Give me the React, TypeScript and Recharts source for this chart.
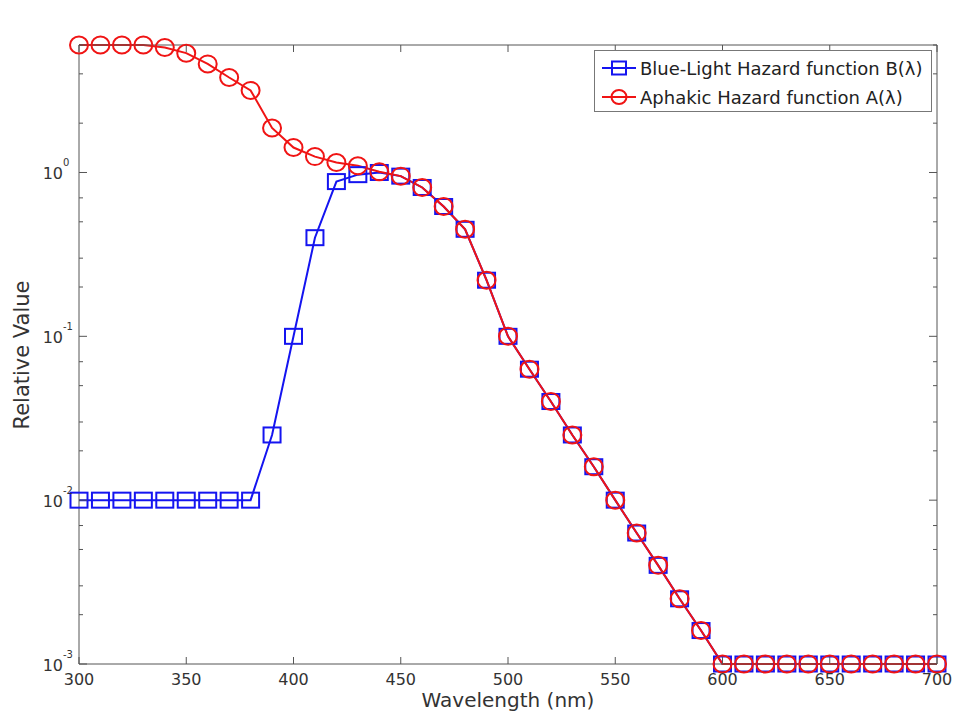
import { LineChart, Line, XAxis, YAxis, Legend } from 'recharts'

// wavelength samples (nm)
const WAVELENGTHS = [
  300, 310, 320, 330, 340, 350, 360, 370, 380, 390,
  400, 410, 420, 430, 440, 450, 460, 470, 480, 490,
  500, 510, 520, 530, 540, 550, 560, 570, 580, 590,
  600, 610, 620, 630, 640, 650, 660, 670, 680, 690, 700,
]

// Blue-Light Hazard function B(λ)
const BLUE_HAZARD = [
  0.01, 0.01, 0.01, 0.01, 0.01, 0.01, 0.01, 0.01, 0.01, 0.025,
  0.1, 0.4, 0.88, 0.97, 1.0, 0.95, 0.81, 0.62, 0.45, 0.22,
  0.1, 0.063, 0.04, 0.025, 0.016, 0.01, 0.0063, 0.004, 0.0025, 0.0016,
  0.001, 0.001, 0.001, 0.001, 0.001, 0.001, 0.001, 0.001, 0.001, 0.001, 0.001,
]

// Aphakic Hazard function A(λ)
const APHAKIC_HAZARD = [
  6.0, 6.0, 6.0, 6.0, 5.8, 5.35, 4.6, 3.8, 3.17, 1.87,
  1.42, 1.25, 1.15, 1.1, 1.01, 0.95, 0.81, 0.62, 0.45, 0.22,
  0.1, 0.063, 0.04, 0.025, 0.016, 0.01, 0.0063, 0.004, 0.0025, 0.0016,
  0.001, 0.001, 0.001, 0.001, 0.001, 0.001, 0.001, 0.001, 0.001, 0.001, 0.001,
]

const X_TICKS = [300, 350, 400, 450, 500, 550, 600, 650, 700]
const Y_DECADES = [0.001, 0.01, 0.1, 1]
const Y_MIN = 0.001
const Y_MAX = 6

const BLUE = '#1414f0'
const RED = '#f01414'
const AXIS = '#555'
const TEXT = '#333'
const FONT = '"DejaVu Sans", sans-serif'

const data = WAVELENGTHS.map((wl, i) => ({ wl, b: BLUE_HAZARD[i], a: APHAKIC_HAZARD[i] }))

// major + minor ticks for the log axis
const yTicks = Y_DECADES.flatMap(d => [1, 2, 3, 4, 5, 6, 7, 8, 9].map(m => m * d)).filter(v => v <= Y_MAX + 1e-9)

const isDecade = (v: number) => Math.abs(Math.log10(v) - Math.round(Math.log10(v))) < 1e-9

function BottomTick({ x, y, payload }: any) {
  return (
    <g>
      <line x1={x} y1={y} x2={x} y2={y - 7} stroke={AXIS} />
      <text x={x} y={y + 21} textAnchor="middle" fontSize={16} fill={TEXT} fontFamily={FONT}>
        {payload.value}
      </text>
    </g>
  )
}

function TopTick({ x, y }: any) {
  return <line x1={x} y1={y} x2={x} y2={y + 7} stroke={AXIS} />
}

function LeftTick({ x, y, payload }: any) {
  const major = isDecade(payload.value)
  const exp = Math.round(Math.log10(payload.value))
  return (
    <g>
      <line x1={x} y1={y} x2={x + (major ? 8 : 4)} y2={y} stroke={AXIS} />
      {major && (
        <>
          <text x={x - 16} y={y + 7} textAnchor="end" fontSize={16} fill={TEXT} fontFamily={FONT}>10</text>
          <text x={x - 16} y={y - 6} textAnchor="start" fontSize={10} fill={TEXT} fontFamily={FONT}>{exp}</text>
        </>
      )}
    </g>
  )
}

function RightTick({ x, y, payload }: any) {
  const major = isDecade(payload.value)
  return <line x1={x} y1={y} x2={x - (major ? 8 : 4)} y2={y} stroke={AXIS} />
}

const SquareDot = (p: any) => (
  <rect key={`b-${p.index}`} x={p.cx - 8.5} y={p.cy - 7.5} width={17} height={15}
    fill="none" stroke={BLUE} strokeWidth={2} />
)

const CircleDot = (p: any) => (
  <ellipse key={`a-${p.index}`} cx={p.cx} cy={p.cy} rx={9} ry={8.5}
    fill="none" stroke={RED} strokeWidth={2} />
)

const SERIES = [
  { label: 'Blue-Light Hazard function B(λ)', color: BLUE, marker: 'square' },
  { label: 'Aphakic Hazard function A(λ)', color: RED, marker: 'circle' },
]

function LegendBox() {
  return (
    <div style={{
      width: 338, height: 62, boxSizing: 'border-box', border: '1px solid #777', background: '#fff',
      fontFamily: FONT, fontSize: 18, color: '#222', position: 'relative',
    }}>
      {SERIES.map((s, i) => (
        <div key={s.label} style={{ position: 'absolute', left: 6, top: 4 + i * 29, height: 26, display: 'flex', alignItems: 'center' }}>
          <svg width={36} height={22}>
            <line x1={1} y1={11} x2={35} y2={11} stroke={s.color} strokeWidth={2} />
            {s.marker === 'square'
              ? <rect x={11} y={4.5} width={14} height={13} fill="none" stroke={s.color} strokeWidth={2} />
              : <ellipse cx={18} cy={11} rx={7.5} ry={7} fill="none" stroke={s.color} strokeWidth={2} />}
          </svg>
          <span style={{ marginLeft: 3, whiteSpace: 'nowrap' }}>{s.label}</span>
        </div>
      ))}
    </div>
  )
}

export default function App() {
  return (
    <div style={{ position: 'absolute', left: 0, top: 0, width: 953, height: 716, background: '#fff' }}>
      <LineChart width={953} height={716} data={data} margin={{ top: 0, right: 0, bottom: 0, left: 0 }}>
        <XAxis
          dataKey="wl"
          type="number"
          domain={[300, 700]}
          ticks={X_TICKS}
          height={52}
          stroke={AXIS}
          tickSize={0}
          tickMargin={0}
          tick={<BottomTick />}
          label={{
            content: (props: any) => {
              const vb = props.viewBox
              return (
                <text x={vb.x + vb.width / 2} y={vb.y + 43} textAnchor="middle" fontSize={20} fill={TEXT} fontFamily={FONT}>
                  Wavelength (nm)
                </text>
              )
            },
          }}
        />
        <XAxis
          xAxisId="t"
          orientation="top"
          dataKey="wl"
          type="number"
          domain={[300, 700]}
          ticks={X_TICKS}
          allowDataOverflow
          height={45}
          stroke={AXIS}
          tickSize={0}
          tickMargin={0}
          tick={<TopTick />}
        />
        <YAxis
          scale="log"
          type="number"
          domain={[Y_MIN, Y_MAX]}
          ticks={yTicks}
          width={79}
          stroke={AXIS}
          tickSize={0}
          tickMargin={0}
          tick={<LeftTick />}
          label={{
            content: () => (
              <text x={22} y={355} transform="rotate(-90, 22, 355)" textAnchor="middle" dominantBaseline="central"
                fontSize={21} fill={TEXT} fontFamily={FONT}>
                Relative Value
              </text>
            ),
          }}
        />
        <YAxis
          yAxisId="r"
          orientation="right"
          scale="log"
          type="number"
          domain={[Y_MIN, Y_MAX]}
          ticks={yTicks}
          allowDataOverflow
          width={16}
          stroke={AXIS}
          tickSize={0}
          tickMargin={0}
          tick={<RightTick />}
        />
        <Legend
          verticalAlign="middle"
          align="center"
          layout="horizontal"
          wrapperStyle={{ left: 594, top: 50, width: 338, height: 62 }}
          content={() => <LegendBox />}
        />
        <Line dataKey="b" stroke={BLUE} strokeWidth={2} dot={SquareDot} activeDot={false} isAnimationActive={false} />
        <Line dataKey="a" stroke={RED} strokeWidth={2} dot={CircleDot} activeDot={false} isAnimationActive={false} />
      </LineChart>
    </div>
  )
}
